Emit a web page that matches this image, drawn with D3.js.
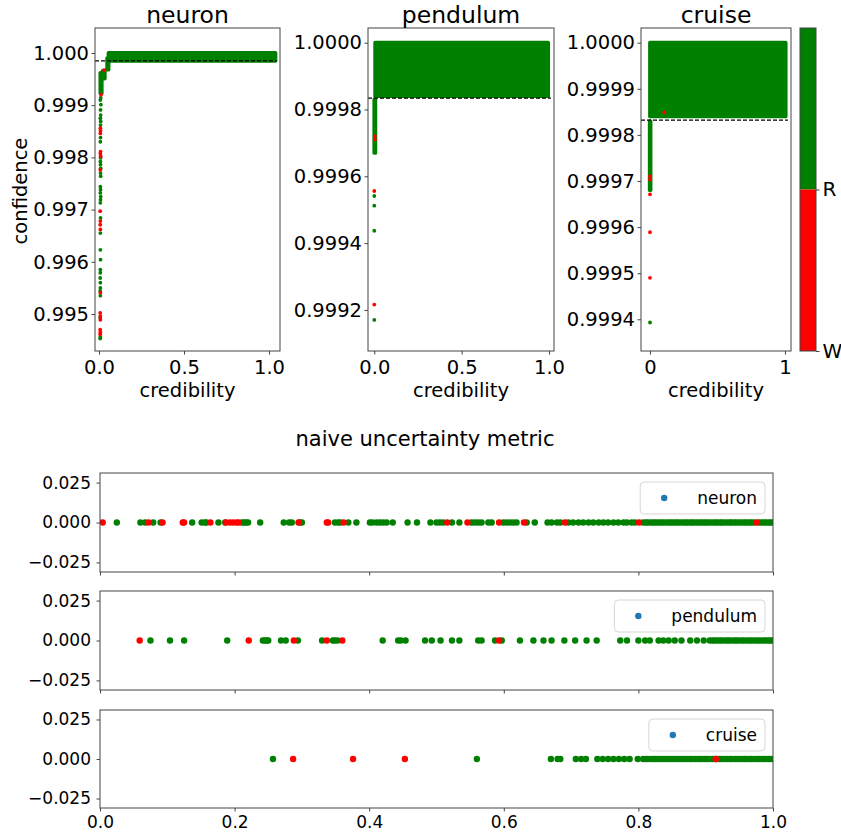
<!DOCTYPE html>
<html><head><meta charset="utf-8">
<script src="https://cdn.jsdelivr.net/npm/d3@7"></script>
<style>
body{margin:0;background:#fff}
text{font-family:"DejaVu Sans",sans-serif;fill:#000}
</style>
</head><body>
<svg id="c" width="841" height="838"></svg>
<script>
// ---------------- DATA ----------------
const GREEN = "#008000", RED = "#ff0000", LEGEND_BLUE = "#1f77b4";
const panelNames = ["neuron", "pendulum", "cruise"];

// thresholds (dashed lines) and the credibility where the dashed line ends
const thresholds = [0.99985, 0.999834, 0.999832];
const thresholdEnds = [1.047, 1.011, 1.022];

// saturated regions of dots: [cred0, cred1, conf0, conf1] (dot centres)
const neuronBlocks = [[0.056, 1.038, 0.99985, 1.0], [0.048, 0.056, 0.99968, 0.99990], [0.022, 0.034, 0.99951, 0.99966], [0.008, 0.016, 0.99923, 0.99962]];
const pendulumBlocks = [[0.005, 0.995, 0.99984, 1.0], [0.0, 0.006, 0.99967, 0.99983]];
const cruiseBlocks = [[0.0, 1.005, 0.99984, 1.0], [-0.002, 0.004, 0.99968, 0.99983]];

// individual points: credibility, confidence, correct (1 = R, 0 = W)
const neuronCred = [0.010,0.012,0.008,0.011,0.009,0.010,0.008,0.010,0.009,0.008,0.009,0.008,0.009,0.008,0.009,0.008,0.010,0.009,0.008,0.009,0.010,0.008,0.009,0.010,0.008,0.009,0.008,0.010,0.009,0.008,0.007,0.009,0.008,0.007,0.008,0.008,0.008,0.009,0.008,0.008,0.007,0.008,0.008,0.007,0.008,0.008,0.007,0.008,0.007,0.008,0.007,0.008,0.007,0.008,0.007,0.031];
const neuronConf = [0.99914,0.99920,0.99910,0.99901,0.99891,0.99881,0.99875,0.99869,0.99862,0.99856,0.99851,0.99846,0.99838,0.99830,0.99811,0.99807,0.99802,0.99799,0.99792,0.99786,0.99779,0.99776,0.99770,0.99764,0.99744,0.99738,0.99732,0.99725,0.99719,0.99713,0.99697,0.99684,0.99678,0.99671,0.99662,0.99655,0.99623,0.99604,0.99585,0.99579,0.99569,0.99560,0.99550,0.99544,0.99541,0.99535,0.99502,0.99496,0.99493,0.99489,0.99470,0.99465,0.99461,0.99456,0.99453,0.99967];
const neuronOk = [1,0,1,1,1,1,1,1,1,0,0,0,1,1,0,0,0,1,1,1,1,0,1,1,1,1,1,1,1,1,0,1,0,0,0,1,1,1,1,1,1,1,1,1,0,1,0,0,1,0,0,0,0,1,1,0];

const pendulumCred = [0.003,0.003,0.0,0.0,0.0,0.0,0.0,0.0];
const pendulumConf = [0.99972,0.99971,0.999556,0.999541,0.999512,0.999437,0.999216,0.99917];
const pendulumOk = [0,0,0,1,1,1,0,1];

const cruiseCred = [0.0,0.0,0.0,0.0,0.0,0.0,0.106];
const cruiseConf = [0.99971,0.999703,0.999671,0.999589,0.99949,0.999393,0.999849];
const cruiseOk = [0,0,0,0,0,1,0];

// tick values
const neuronYTicks = [0.995, 0.996, 0.997, 0.998, 0.999, 1.000];
const pendulumYTicks = [0.9992, 0.9994, 0.9996, 0.9998, 1.0000];
const cruiseYTicks = [0.9994, 0.9995, 0.9996, 0.9997, 0.9998, 0.9999, 1.0000];
const topXTicks = [0, 0.5, 1.0];
const cruiseXTicks = [0, 1];
const colorbarTicks = [0, 1];
const colorbarLabels = ["W", "R"];
const stripXTicks = [0.0, 0.2, 0.4, 0.6, 0.8, 1.0];
const stripYTicks = [-0.025, 0.0, 0.025];

// naive uncertainty metric strips: x values of right (R) and wrong (W) predictions
const neuronStripR = [0.025,0.060,0.067,0.079,0.090,0.137,0.151,0.156,0.158,0.176,0.186,0.211,0.214,0.217,0.220,0.238,0.273,0.281,0.285,0.297,0.300,0.349,0.354,0.357,0.369,0.381,0.401,0.405,0.411,0.416,0.421,0.426,0.435,0.457,0.471,0.491,0.500,0.505,0.510,0.523,0.534,0.552,0.557,0.562,0.567,0.577,0.582,0.599,0.604,0.609,0.614,0.619,0.634,0.646,0.665,0.671,0.679,0.684,0.696,0.703,0.711,0.718,0.726,0.733,0.741,0.748,0.755,0.763,0.770,0.778,0.783,0.790,0.795,0.807,0.811,0.814,0.818,0.822,0.825,0.829,0.833,0.836,0.840,0.844,0.848,0.851,0.855,0.858,0.862,0.866,0.870,0.873,0.877,0.880,0.884,0.888,0.892,0.895,0.899,0.902,0.906,0.910,0.914,0.917,0.921,0.924,0.928,0.932,0.936,0.939,0.943,0.946,0.950,0.954,0.958,0.961,0.965,0.968,0.972,0.979,0.983,0.987,0.990,0.994,0.997,1.000];
const neuronStripW = [0.004,0.072,0.093,0.123,0.125,0.164,0.187,0.193,0.198,0.203,0.206,0.295,0.337,0.339,0.362,0.516,0.546,0.593,0.630,0.691,0.801,0.976];

const pendulumStripR = [0.075,0.104,0.125,0.189,0.242,0.245,0.248,0.250,0.269,0.276,0.294,0.330,0.346,0.349,0.353,0.420,0.443,0.447,0.454,0.483,0.493,0.506,0.523,0.534,0.562,0.567,0.587,0.597,0.624,0.644,0.659,0.671,0.690,0.706,0.723,0.738,0.773,0.783,0.800,0.810,0.817,0.830,0.837,0.845,0.854,0.864,0.877,0.887,0.897,0.906,0.910,0.913,0.917,0.921,0.924,0.928,0.932,0.935,0.939,0.943,0.946,0.950,0.954,0.957,0.961,0.965,0.968,0.972,0.976,0.979,0.983,0.987,0.990,0.994,0.997,1.000];
const pendulumStripW = [0.059,0.221,0.288,0.337,0.360,0.593];

const cruiseStripR = [0.257,0.560,0.670,0.680,0.684,0.707,0.715,0.722,0.739,0.747,0.755,0.763,0.771,0.779,0.787,0.799,0.807,0.811,0.814,0.818,0.822,0.825,0.829,0.833,0.836,0.840,0.844,0.848,0.851,0.855,0.858,0.862,0.866,0.870,0.873,0.877,0.880,0.884,0.888,0.892,0.895,0.899,0.902,0.906,0.910,0.914,0.917,0.921,0.924,0.928,0.932,0.936,0.939,0.943,0.946,0.950,0.954,0.958,0.961,0.965,0.968,0.972,0.976,0.979,0.983,0.987,0.990,0.994,0.997,1.000];
const cruiseStripW = [0.287,0.376,0.453,0.915];

// ---------------- DRAW ----------------
const svg = d3.select("#c");
const SPINE = "#444";
const RTOP = 1.9, RSTRIP = 3.2;
const FS_TOP = 19.5;

function styleAxis(g, fs) {
  g.select(".domain").remove();
  g.selectAll(".tick line").attr("stroke", SPINE).attr("stroke-width", 1);
  g.selectAll(".tick text").attr("font-size", fs + "px").attr("fill", "#000")
    .style("font-family", '"DejaVu Sans",sans-serif');
}

function topPanel(o, idx) {
  const x = d3.scaleLinear().domain(o.xDom).range([o.l, o.r]);
  const y = d3.scaleLinear().domain(o.yDom).range([o.b, o.t]);
  const cid = "clipTop" + idx;
  svg.append("clipPath").attr("id", cid).append("rect")
    .attr("x", o.l).attr("y", o.t).attr("width", o.r - o.l).attr("height", o.b - o.t);
  const g = svg.append("g").attr("clip-path", `url(#${cid})`);
  g.selectAll("rect").data(o.blocks).join("rect")
    .attr("x", d => x(d[0]) - RTOP).attr("width", d => x(d[1]) - x(d[0]) + 2 * RTOP)
    .attr("y", d => y(d[3]) - RTOP).attr("height", d => y(d[2]) - y(d[3]) + 2 * RTOP)
    .attr("rx", RTOP).attr("fill", GREEN);
  const pts = o.cred.map((c, i) => ({ c, f: o.conf[i], ok: o.ok[i] }));
  const ordered = pts.filter(p => p.ok).concat(pts.filter(p => !p.ok));
  g.selectAll("circle").data(ordered).join("circle")
    .attr("cx", d => x(d.c)).attr("cy", d => y(d.f)).attr("r", RTOP)
    .attr("fill", d => d.ok ? GREEN : RED);
  g.append("line").attr("x1", o.l).attr("x2", x(o.thrEnd))
    .attr("y1", y(o.thr)).attr("y2", y(o.thr))
    .attr("stroke", "#000").attr("stroke-width", 1.3).attr("stroke-dasharray", "4,2");
  svg.append("rect").attr("x", o.l).attr("y", o.t).attr("width", o.r - o.l).attr("height", o.b - o.t)
    .attr("fill", "none").attr("stroke", SPINE).attr("stroke-width", 1);
  const ya = svg.append("g").attr("transform", `translate(${o.l},0)`)
    .call(d3.axisLeft(y).tickValues(o.yTicks).tickFormat(d3.format(o.yFmt)).tickSize(3.5).tickPadding(2.5));
  styleAxis(ya, FS_TOP);
  const xa = svg.append("g").attr("transform", `translate(0,${o.b})`)
    .call(d3.axisBottom(x).tickValues(o.xTicks).tickFormat(d3.format(o.xFmt)).tickSize(3.5).tickPadding(5.5));
  styleAxis(xa, FS_TOP);
  svg.append("text").attr("x", (o.l + o.r) / 2).attr("y", 23).attr("text-anchor", "middle")
    .attr("font-size", "23.5px").text(o.title);
  svg.append("text").attr("x", (o.l + o.r) / 2).attr("y", 396.5).attr("text-anchor", "middle")
    .attr("font-size", FS_TOP + "px").text("credibility");
}

topPanel({ l: 95, r: 280, t: 28, b: 351, xDom: [-0.0235, 1.0647], yDom: [0.994291, 1.000479],
  blocks: neuronBlocks, cred: neuronCred, conf: neuronConf, ok: neuronOk,
  thr: thresholds[0], thrEnd: thresholdEnds[0], yTicks: neuronYTicks, yFmt: ".3f",
  xTicks: topXTicks, xFmt: ".1f", title: panelNames[0] }, 0);
topPanel({ l: 368, r: 554, t: 28, b: 351, xDom: [-0.036, 1.0286], yDom: [0.999077, 1.000044],
  blocks: pendulumBlocks, cred: pendulumCred, conf: pendulumConf, ok: pendulumOk,
  thr: thresholds[1], thrEnd: thresholdEnds[1], yTicks: pendulumYTicks, yFmt: ".4f",
  xTicks: topXTicks, xFmt: ".1f", title: panelNames[1] }, 1);
topPanel({ l: 641, r: 791, t: 28, b: 351, xDom: [-0.0667, 1.0444], yDom: [0.9993312, 1.0000319],
  blocks: cruiseBlocks, cred: cruiseCred, conf: cruiseConf, ok: cruiseOk,
  thr: thresholds[2], thrEnd: thresholdEnds[2], yTicks: cruiseYTicks, yFmt: ".4f",
  xTicks: cruiseXTicks, xFmt: "d", title: panelNames[2] }, 2);

// y label
svg.append("text").attr("transform", "translate(27,191) rotate(-90)").attr("text-anchor", "middle")
  .attr("font-size", FS_TOP + "px").text("confidence");

// colorbar
(function () {
  const l = 800, r = 816, t = 28, b = 351;
  const cy = d3.scaleLinear().domain([0, 2]).range([b, t]);
  svg.append("rect").attr("x", l).attr("width", r - l).attr("y", cy(2)).attr("height", cy(1) - cy(2)).attr("fill", GREEN);
  svg.append("rect").attr("x", l).attr("width", r - l).attr("y", cy(1)).attr("height", cy(0) - cy(1)).attr("fill", RED);
  svg.append("rect").attr("x", l).attr("width", r - l).attr("y", t).attr("height", b - t)
    .attr("fill", "none").attr("stroke", SPINE).attr("stroke-width", 1);
  const ax = svg.append("g").attr("transform", `translate(${r},0)`)
    .call(d3.axisRight(cy).tickValues(colorbarTicks).tickFormat((d, i) => colorbarLabels[i]).tickSize(3.5).tickPadding(3));
  styleAxis(ax, 20);
})();

// bottom title
svg.append("text").attr("x", 425).attr("y", 446).attr("text-anchor", "middle")
  .attr("font-size", "21px").text("naive uncertainty metric");

function strip(o, idx) {
  const x = d3.scaleLinear().domain([0, 1]).range([100, 773]);
  const y = d3.scaleLinear().domain([-0.031, 0.031]).range([o.b, o.t]);
  const cid = "clipStrip" + idx;
  svg.append("clipPath").attr("id", cid).append("rect")
    .attr("x", 100).attr("y", o.t).attr("width", 673).attr("height", o.b - o.t);
  const g = svg.append("g").attr("clip-path", `url(#${cid})`);
  const pts = o.R.map(v => ({ v, ok: 1 })).concat(o.W.map(v => ({ v, ok: 0 })));
  g.selectAll("circle").data(pts).join("circle")
    .attr("cx", d => x(d.v)).attr("cy", y(0)).attr("r", RSTRIP)
    .attr("fill", d => d.ok ? GREEN : RED);
  svg.append("rect").attr("x", 100).attr("y", o.t).attr("width", 673).attr("height", o.b - o.t)
    .attr("fill", "none").attr("stroke", SPINE).attr("stroke-width", 1);
  const ya = svg.append("g").attr("transform", "translate(100,0)")
    .call(d3.axisLeft(y).tickValues(stripYTicks).tickFormat(d3.format(".3f")).tickSize(3.5).tickPadding(5.5));
  styleAxis(ya, 17);
  const xa = svg.append("g").attr("transform", `translate(0,${o.b})`)
    .call(d3.axisBottom(x).tickValues(stripXTicks).tickFormat(o.labels ? d3.format(".1f") : () => "").tickSize(3.5).tickPadding(4.5));
  styleAxis(xa, 17);
  // legend
  const lg = svg.append("g");
  const txt = lg.append("text").attr("font-size", "17px").attr("text-anchor", "end")
    .attr("x", 757).attr("y", o.t + 25 + 6).text(o.name);
  const tw = txt.node().getComputedTextLength();
  const dotX = 757 - tw - 33;
  lg.insert("rect", "text").attr("x", dotX - 24).attr("y", o.t + 9).attr("width", 765 - (dotX - 24)).attr("height", 32)
    .attr("rx", 4).attr("fill", "#fff").attr("fill-opacity", 0.8).attr("stroke", "#d6d6d6").attr("stroke-width", 1);
  lg.append("circle").attr("cx", dotX).attr("cy", o.t + 25).attr("r", 3.2).attr("fill", LEGEND_BLUE);
}

strip({ t: 473, b: 572, R: neuronStripR, W: neuronStripW, name: panelNames[0], labels: false }, 0);
strip({ t: 591, b: 690, R: pendulumStripR, W: pendulumStripW, name: panelNames[1], labels: false }, 1);
strip({ t: 710, b: 808, R: cruiseStripR, W: cruiseStripW, name: panelNames[2], labels: true }, 2);
</script>
</body></html>
